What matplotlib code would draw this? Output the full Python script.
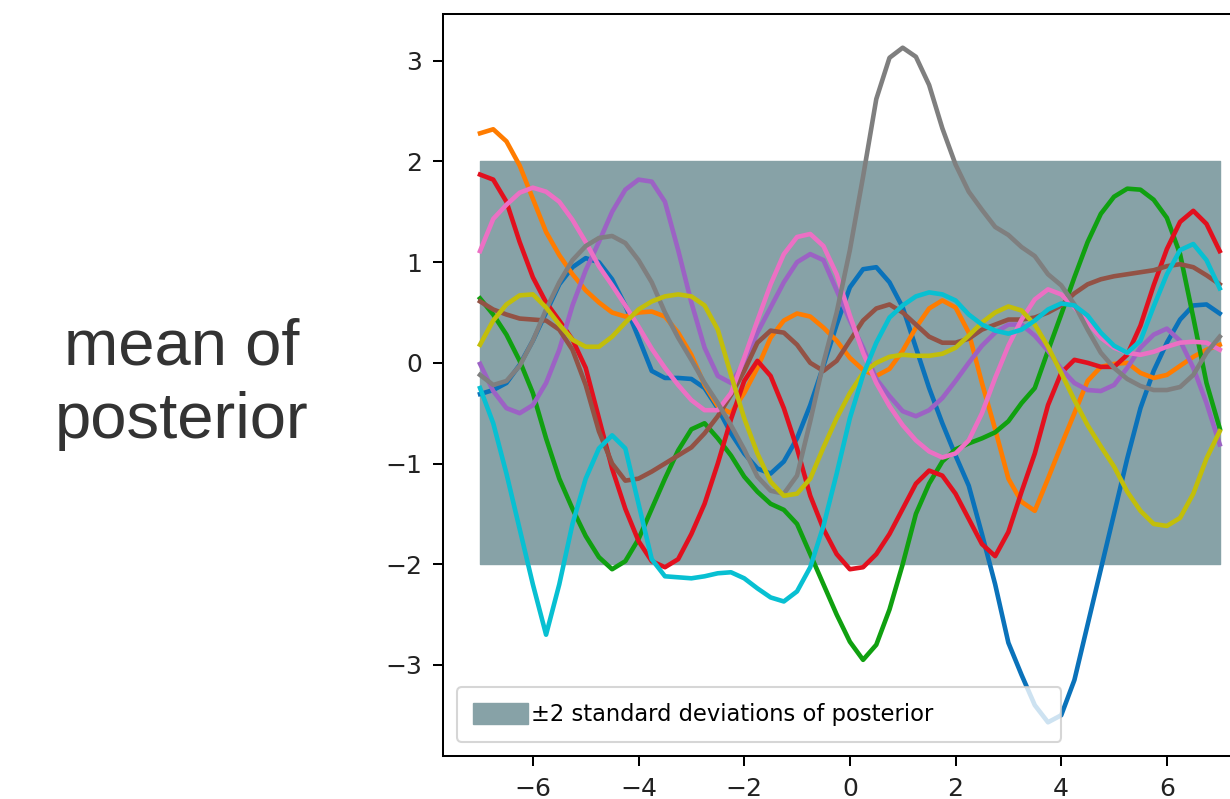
import numpy as np
import matplotlib
matplotlib.use("Agg")
import matplotlib.pyplot as plt

# sample positions shared by all posterior draws
xs = np.linspace(-7, 7, 57)

# posterior mean draws, one list per curve (values at xs)
draw_blue = [-0.31, -0.27, -0.2, -0.02, 0.22, 0.5, 0.78, 0.95, 1.04, 1.0, 0.83, 0.57, 0.25, -0.08,
             -0.15, -0.15, -0.16, -0.25, -0.45, -0.7, -0.9, -1.05, -1.1, -0.98, -0.75, -0.42, -0.03,
             0.38, 0.75, 0.93, 0.95, 0.8, 0.55, 0.15, -0.25, -0.6, -0.92, -1.22, -1.7, -2.2, -2.78,
             -3.1, -3.4, -3.57, -3.5, -3.15, -2.6, -2.05, -1.5, -0.95, -0.45, -0.08, 0.2, 0.43, 0.57,
             0.58, 0.49]
draw_orange = [2.28, 2.32, 2.2, 1.96, 1.63, 1.3, 1.07, 0.88, 0.72, 0.6, 0.5, 0.46, 0.5, 0.51, 0.46,
               0.3, 0.08, -0.22, -0.43, -0.5, -0.3, -0.05, 0.25, 0.42, 0.49, 0.46, 0.35, 0.22, 0.05,
               -0.07, -0.13, -0.06, 0.12, 0.35, 0.54, 0.62, 0.55, 0.3, -0.2, -0.66, -1.15, -1.38,
               -1.47, -1.15, -0.82, -0.5, -0.18, -0.04, -0.01, 0.0, -0.1, -0.15, -0.12, -0.03, 0.06,
               0.13, 0.18]
draw_green = [0.64, 0.48, 0.28, 0.02, -0.3, -0.75, -1.15, -1.45, -1.72, -1.93, -2.05, -1.97, -1.75,
              -1.45, -1.15, -0.87, -0.66, -0.6, -0.75, -0.92, -1.13, -1.28, -1.4, -1.46, -1.6, -1.9,
              -2.2, -2.5, -2.77, -2.95, -2.8, -2.45, -2.0, -1.5, -1.2, -0.98, -0.86, -0.8, -0.75,
              -0.69, -0.58, -0.4, -0.25, 0.12, 0.48, 0.85, 1.2, 1.48, 1.65, 1.73, 1.72, 1.62, 1.44,
              1.08, 0.45, -0.2, -0.65]
draw_red = [1.87, 1.82, 1.6, 1.2, 0.85, 0.6, 0.42, 0.23, -0.05, -0.55, -1.05, -1.45, -1.77, -1.97,
            -2.03, -1.95, -1.7, -1.4, -1.0, -0.56, -0.18, 0.02, -0.13, -0.45, -0.85, -1.32, -1.65,
            -1.9, -2.05, -2.03, -1.9, -1.7, -1.45, -1.2, -1.07, -1.12, -1.3, -1.55, -1.8, -1.92,
            -1.68, -1.28, -0.9, -0.42, -0.1, 0.03, 0.0, -0.04, -0.04, 0.08, 0.37, 0.77, 1.13, 1.4,
            1.51, 1.38, 1.11]
draw_purple = [-0.01, -0.28, -0.45, -0.5, -0.42, -0.2, 0.13, 0.57, 0.92, 1.2, 1.5, 1.72, 1.82, 1.8,
               1.6, 1.12, 0.6, 0.15, -0.13, -0.2, 0.0, 0.3, 0.55, 0.8, 1.0, 1.08, 1.02, 0.72, 0.42,
               0.15, -0.16, -0.33, -0.48, -0.53, -0.47, -0.35, -0.18, 0.0, 0.17, 0.3, 0.38, 0.38,
               0.27, 0.12, -0.06, -0.2, -0.27, -0.28, -0.22, -0.05, 0.15, 0.28, 0.34, 0.22, -0.05,
               -0.4, -0.81]
draw_brown = [0.61, 0.53, 0.48, 0.44, 0.43, 0.42, 0.33, 0.13, -0.22, -0.68, -1.0, -1.17, -1.15,
              -1.08, -1.0, -0.92, -0.84, -0.7, -0.53, -0.32, -0.08, 0.2, 0.32, 0.3, 0.18, 0.0, -0.08,
              0.02, 0.22, 0.42, 0.54, 0.58, 0.5, 0.38, 0.26, 0.2, 0.2, 0.24, 0.33, 0.38, 0.43, 0.43,
              0.45, 0.5, 0.57, 0.69, 0.78, 0.83, 0.86, 0.88, 0.9, 0.92, 0.96, 0.98, 0.95, 0.87, 0.78]
draw_pink = [1.11, 1.43, 1.57, 1.69, 1.74, 1.7, 1.6, 1.42, 1.2, 0.96, 0.77, 0.57, 0.36, 0.14, -0.05,
             -0.22, -0.37, -0.47, -0.47, -0.3, 0.05, 0.42, 0.78, 1.08, 1.25, 1.28, 1.16, 0.88, 0.47,
             0.1, -0.2, -0.43, -0.62, -0.77, -0.88, -0.94, -0.9, -0.77, -0.5, -0.15, 0.17, 0.43,
             0.63, 0.73, 0.68, 0.55, 0.4, 0.25, 0.15, 0.1, 0.08, 0.11, 0.16, 0.2, 0.21, 0.2, 0.13]
draw_gray = [-0.12, -0.22, -0.18, -0.03, 0.22, 0.53, 0.8, 1.02, 1.16, 1.24, 1.26, 1.19, 1.02, 0.8,
             0.5, 0.25, 0.03, -0.2, -0.4, -0.62, -0.86, -1.13, -1.27, -1.3, -1.12, -0.58, 0.0, 0.5,
             1.12, 1.85, 2.62, 3.03, 3.13, 3.04, 2.76, 2.33, 1.97, 1.7, 1.52, 1.35, 1.27, 1.15, 1.06,
             0.88, 0.77, 0.58, 0.33, 0.1, -0.05, -0.16, -0.23, -0.27, -0.27, -0.24, -0.12, 0.1, 0.26]
draw_olive = [0.18, 0.42, 0.58, 0.67, 0.68, 0.55, 0.38, 0.23, 0.16, 0.16, 0.26, 0.4, 0.53, 0.61,
              0.66, 0.68, 0.66, 0.57, 0.33, -0.12, -0.55, -0.9, -1.18, -1.32, -1.3, -1.15, -0.84,
              -0.55, -0.3, -0.1, 0.0, 0.06, 0.08, 0.07, 0.07, 0.09, 0.15, 0.27, 0.4, 0.5, 0.56, 0.52,
              0.38, 0.16, -0.1, -0.37, -0.62, -0.83, -1.03, -1.28, -1.47, -1.6, -1.62, -1.54, -1.3,
              -0.95, -0.68]
draw_cyan = [-0.25, -0.6, -1.1, -1.65, -2.2, -2.7, -2.2, -1.6, -1.15, -0.85, -0.72, -0.85, -1.4,
             -1.95, -2.12, -2.13, -2.14, -2.12, -2.09, -2.08, -2.14, -2.24, -2.33, -2.37, -2.27, -2.03,
             -1.62, -1.1, -0.55, -0.12, 0.2, 0.45, 0.57, 0.66, 0.7, 0.68, 0.62, 0.48, 0.38, 0.32,
             0.29, 0.33, 0.42, 0.53, 0.59, 0.57, 0.47, 0.3, 0.17, 0.1, 0.22, 0.56, 0.88, 1.12, 1.18,
             1.02, 0.74]

draws = [draw_blue, draw_orange, draw_green, draw_red, draw_purple,
         draw_brown, draw_pink, draw_gray, draw_olive, draw_cyan]
draw_colors = ["#0a72ba", "#ff7c00", "#10a010", "#e2101e", "#9c62c4",
               "#935245", "#ec70c4", "#7f7f7f", "#c2be0a", "#08c0d2"]

# prior band: mean 0, +/- 2 standard deviations
band_x = [-7, 7]
band_lo = [-2, -2]
band_hi = [2, 2]

fig = plt.figure(figsize=(12.3, 7.99), dpi=100)
ax = fig.add_axes([0.3602, 0.0538, 0.6615, 0.9287])

ax.fill_between(band_x, band_lo, band_hi, color="#87a2a7",
                label="\u00b12 standard deviations of posterior")
for ys, c in zip(draws, draw_colors):
    ax.plot(xs, ys, color=c, lw=3.3, solid_joinstyle="round")

ax.set_xticks([-6, -4, -2, 0, 2, 4, 6])
ax.set_yticks([-3, -2, -1, 0, 1, 2, 3])
ax.tick_params(labelsize=18, length=7.2, width=1.45, pad=8, labelcolor="#222222")
for sp in ax.spines.values():
    sp.set_linewidth(1.45)

leg = ax.legend(loc="lower left", bbox_to_anchor=(0.0172, 0.0189, 0.7424, 0),
                mode="expand", borderaxespad=0, fontsize=16.3, borderpad=0.7,
                handlelength=2.45, handleheight=1.0, handletextpad=0.1)
leg.get_frame().set_linewidth(1.5)

fig.text(0.148, 0.519, "mean of\nposterior", ha="center", va="center",
         fontsize=47, family="Liberation Sans", color="#333333", linespacing=1.3)

fig.savefig("out.png", dpi=100)
